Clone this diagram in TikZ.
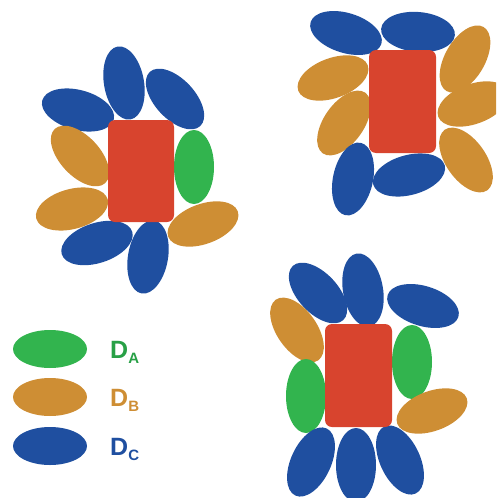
\documentclass[tikz,border=0pt]{standalone}
\usepackage{fontspec}
\setmainfont{Liberation Sans}
\usetikzlibrary{shapes.geometric}
\definecolor{cred}{RGB}{216,68,46}
\definecolor{cgreen}{RGB}{50,180,78}
\definecolor{corange}{RGB}{206,142,52}
\definecolor{cblue}{RGB}{31,79,160}
\definecolor{tgreen}{RGB}{40,160,70}
\begin{document}
\begin{tikzpicture}[x=1pt,y=-1pt,
  el/.style={ellipse,inner sep=0pt,minimum width=74pt,minimum height=40pt,draw=none},
  ga/.style={el,fill=cgreen},
  ob/.style={el,fill=corange},
  bc/.style={el,fill=cblue},
  core/.style={fill=cred,rounded corners=7pt},
  lab/.style={anchor=base west,font=\bfseries\fontsize{25}{25}\selectfont,inner sep=0pt}]
\useasboundingbox (0,0) rectangle (496,498);
\clip (0,0) rectangle (496,498);
% cluster 1 (top left)
\node[bc,rotate=100] (c1b1) at (124,83) {};
\node[bc,rotate=-15] (c1b2) at (78,110) {};
\node[bc,rotate=-47] (c1b3) at (175,99) {};
\node[ob,rotate=-47] (c1o1) at (80,156) {};
\node[ob,rotate=15] (c1o2) at (72,209) {};
\node[ga,rotate=90] (c1g1) at (194,167) {};
\node[ob,rotate=20] (c1o3) at (203,224) {};
\node[bc,rotate=18] (c1b4) at (97,243) {};
\node[bc,rotate=80] (c1b5) at (148,257) {};
\path[core] (108,120) rectangle (174,222);
\coordinate (c1r) at (141,171);
% cluster 2 (top right)
\node[bc,rotate=-17] (c2b1) at (346,33) {};
\node[bc,rotate=-5] (c2b2) at (418,32) {};
\node[ob,rotate=20] (c2o1) at (333,78) {};
\node[ob,rotate=55] (c2o2) at (344,123) {};
\node[bc,rotate=78] (c2b3) at (353,179) {};
\node[bc,rotate=15] (c2b4) at (409,175) {};
\node[ob,rotate=60] (c2o3) at (465,59) {};
\node[ob,rotate=20] (c2o4) at (473,104) {};
\node[ob,rotate=-55] (c2o5) at (466,160) {};
\path[core] (369,50) rectangle (436,153);
% cluster 3 (bottom right)
\node[bc,rotate=-47] (c3b1) at (318,293) {};
\node[bc,rotate=100] (c3b2) at (363,290) {};
\node[bc,rotate=-17] (c3b3) at (423,306) {};
\node[ob,rotate=-55] (c3o1) at (297,330) {};
\node[ga,rotate=90] (c3g1) at (306,396) {};
\node[ga,rotate=90] (c3g2) at (412,362) {};
\node[ob,rotate=20] (c3o2) at (432,411) {};
\node[bc,rotate=65] (c3b4) at (311,462) {};
\node[bc,rotate=90] (c3b5) at (356,465) {};
\node[bc,rotate=-65] (c3b6) at (400,460) {};
\path[core] (325,324) rectangle (392,427);
% legend
\node[ga,minimum height=38pt] (lga) at (50,349) {};
\node[ob,minimum height=38pt] (lob) at (50,397) {};
\node[bc,minimum height=38pt] (lbc) at (50,446) {};
\node[lab,text=tgreen] (lta) at (110,358) {D\raisebox{-5pt}{\fontsize{15}{15}\selectfont A}};
\node[lab,text=corange] (ltb) at (110,406) {D\raisebox{-5pt}{\fontsize{15}{15}\selectfont B}};
\node[lab,text=cblue] (ltc) at (110,455) {D\raisebox{-5pt}{\fontsize{15}{15}\selectfont C}};
\end{tikzpicture}
\end{document}
